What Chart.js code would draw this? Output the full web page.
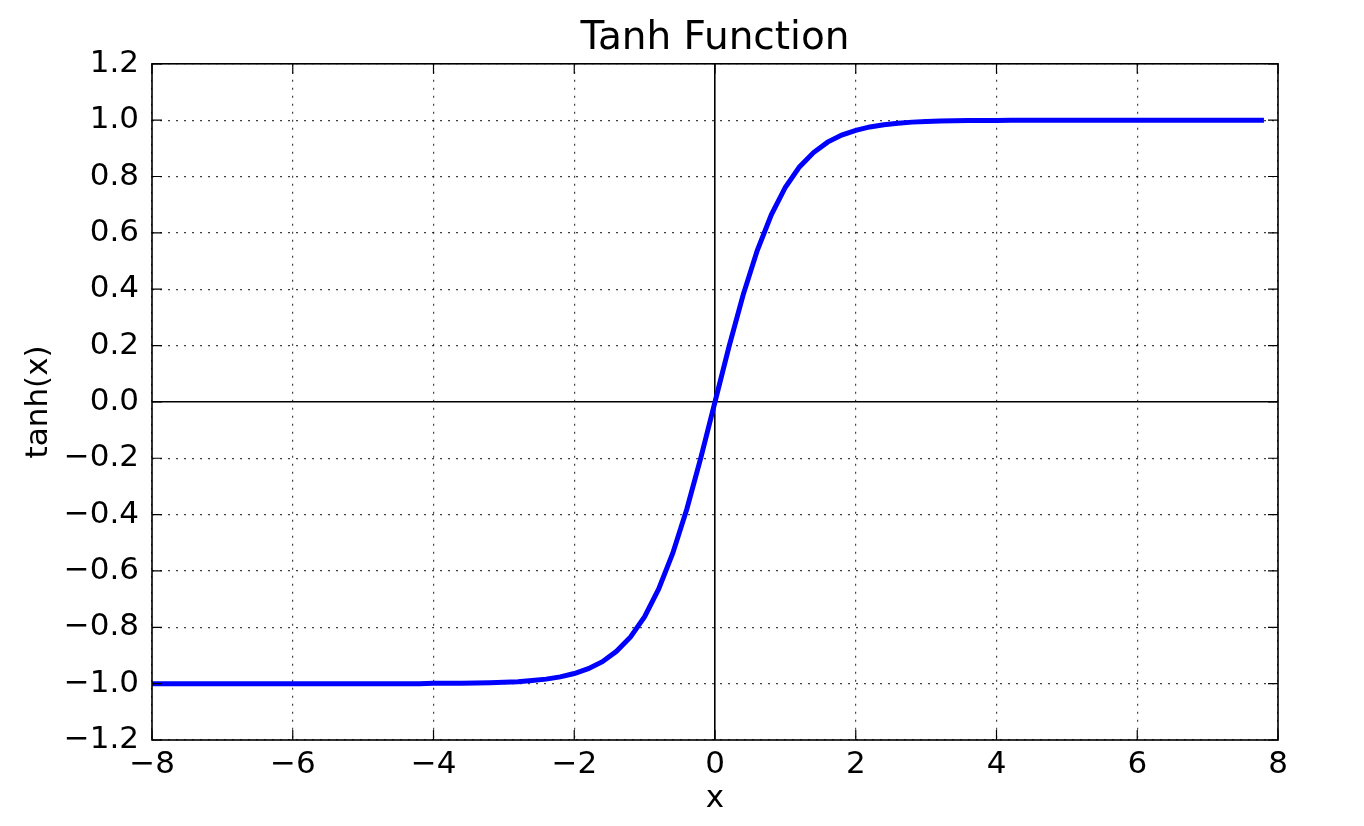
<!DOCTYPE html>
<html>
<head>
<meta charset="utf-8">
<script src="https://cdn.jsdelivr.net/npm/chart.js@4/dist/chart.umd.min.js"></script>
<style>
  html, body { margin: 0; padding: 0; background: #fff; }
  #wrap { width: 1364px; height: 826px; }
</style>
</head>
<body>
<div id="wrap"><canvas id="tanhChart"></canvas></div>
<script>
// x values of the plotted curve
var xs = [-8.0, -7.8, -7.6, -7.4, -7.2, -7.0, -6.8, -6.6, -6.4, -6.2,
          -6.0, -5.8, -5.6, -5.4, -5.2, -5.0, -4.8, -4.6, -4.4, -4.2,
          -4.0, -3.8, -3.6, -3.4, -3.2, -3.0, -2.8, -2.6, -2.4, -2.2,
          -2.0, -1.8, -1.6, -1.4, -1.2, -1.0, -0.8, -0.6, -0.4, -0.2,
           0.0,  0.2,  0.4,  0.6,  0.8,  1.0,  1.2,  1.4,  1.6,  1.8,
           2.0,  2.2,  2.4,  2.6,  2.8,  3.0,  3.2,  3.4,  3.6,  3.8,
           4.0,  4.2,  4.4,  4.6,  4.8,  5.0,  5.2,  5.4,  5.6,  5.8,
           6.0,  6.2,  6.4,  6.6,  6.8,  7.0,  7.2,  7.4,  7.6,  7.8];
// tanh(x)
var ys = [-1.000, -1.000, -1.000, -1.000, -1.000, -1.000, -1.000, -1.000, -1.000, -1.000,
          -1.000, -1.000, -1.000, -1.000, -1.000, -1.000, -1.000, -1.000, -1.000, -1.000,
          -0.999, -0.999, -0.999, -0.998, -0.997, -0.995, -0.993, -0.989, -0.984, -0.976,
          -0.964, -0.947, -0.922, -0.885, -0.834, -0.762, -0.664, -0.537, -0.380, -0.197,
           0.000,  0.197,  0.380,  0.537,  0.664,  0.762,  0.834,  0.885,  0.922,  0.947,
           0.964,  0.976,  0.984,  0.989,  0.993,  0.995,  0.997,  0.998,  0.999,  0.999,
           0.999,  1.000,  1.000,  1.000,  1.000,  1.000,  1.000,  1.000,  1.000,  1.000,
           1.000,  1.000,  1.000,  1.000,  1.000,  1.000,  1.000,  1.000,  1.000,  1.000];
var xTicks = [-8, -6, -4, -2, 0, 2, 4, 6, 8];
var yTicks = [-1.2, -1.0, -0.8, -0.6, -0.4, -0.2, 0.0, 0.2, 0.4, 0.6, 0.8, 1.0, 1.2];

var points = xs.map(function(x, i){ return {x: x, y: ys[i]}; });

function isZero(v){ return Math.abs(v) < 1e-9; }
function fmt(v, d){
    if (isZero(v)) v = 0;
    return v.toFixed(d).replace('-', '\u2212');
}

// frame on all four sides plus inward tick marks, like matplotlib classic
var frameTicks = {
    id: 'frameTicks',
    afterDraw: function(chart){
        var c = chart.ctx, a = chart.chartArea;
        var sx = chart.scales.x, sy = chart.scales.y;
        c.save();
        c.strokeStyle = '#000';
        c.lineWidth = 1.2;
        c.beginPath();
        xTicks.forEach(function(v){
            var px = sx.getPixelForValue(v);
            c.moveTo(px, a.bottom); c.lineTo(px, a.bottom - 10);
            c.moveTo(px, a.top); c.lineTo(px, a.top + 10);
        });
        yTicks.forEach(function(v){
            var py = sy.getPixelForValue(v);
            c.moveTo(a.left, py); c.lineTo(a.left + 10, py);
            c.moveTo(a.right, py); c.lineTo(a.right - 10, py);
        });
        c.stroke();
        c.lineWidth = 1.6;
        c.strokeRect(a.left, a.top, a.right - a.left, a.bottom - a.top);
        c.restore();
    }
};

Chart.defaults.font.family = 'DejaVu Sans';
Chart.defaults.color = '#000';

var gridOpts = {
    color: function(ctx){ return (ctx.tick && isZero(ctx.tick.value)) ? '#000' : 'rgba(0,0,0,0.75)'; },
    lineWidth: function(ctx){ return (ctx.tick && isZero(ctx.tick.value)) ? 1.6 : 1.2; },
    drawTicks: false
};
var borderOpts = {
    display: false,
    dash: function(ctx){ return (ctx.tick && !isZero(ctx.tick.value)) ? [2, 6] : []; }
};

new Chart(document.getElementById('tanhChart'), {
    type: 'line',
    data: {
        datasets: [{
            data: points,
            borderColor: '#0000ff',
            borderWidth: 5,
            pointRadius: 0,
            tension: 0,
            fill: false
        }]
    },
    plugins: [frameTicks],
    options: {
        responsive: true,
        maintainAspectRatio: false,
        animation: false,
        layout: { padding: { left: 0, right: 86, top: 0, bottom: 0 } },
        plugins: {
            legend: { display: false },
            tooltip: { enabled: false },
            title: {
                display: true,
                fullSize: false,
                text: 'Tanh Function',
                color: '#000',
                font: { size: 39, weight: 'normal' },
                padding: { top: 15, bottom: 2 }
            }
        },
        scales: {
            x: {
                type: 'linear',
                min: -8, max: 8,
                z: 1,
                afterFit: function(s){ s.height = 86; },
                afterBuildTicks: function(s){ s.ticks = xTicks.map(function(v){ return {value: v}; }); },
                ticks: {
                    font: { size: 31 },
                    padding: 6,
                    maxRotation: 0,
                    callback: function(v){ return fmt(v, 0); }
                },
                grid: gridOpts,
                border: borderOpts,
                title: { display: true, text: 'x', font: { size: 31 }, padding: { top: 0, bottom: 8 } }
            },
            y: {
                min: -1.2, max: 1.2,
                z: 1,
                afterFit: function(s){ s.width = 152; },
                afterBuildTicks: function(s){ s.ticks = yTicks.map(function(v){ return {value: v}; }); },
                ticks: {
                    font: { size: 31 },
                    padding: 13,
                    callback: function(v){ return fmt(v, 1); }
                },
                grid: gridOpts,
                border: borderOpts,
                title: { display: true, text: 'tanh(x)', font: { size: 31 }, padding: { top: 20, bottom: 0 } }
            }
        }
    }
});
</script>
</body>
</html>
